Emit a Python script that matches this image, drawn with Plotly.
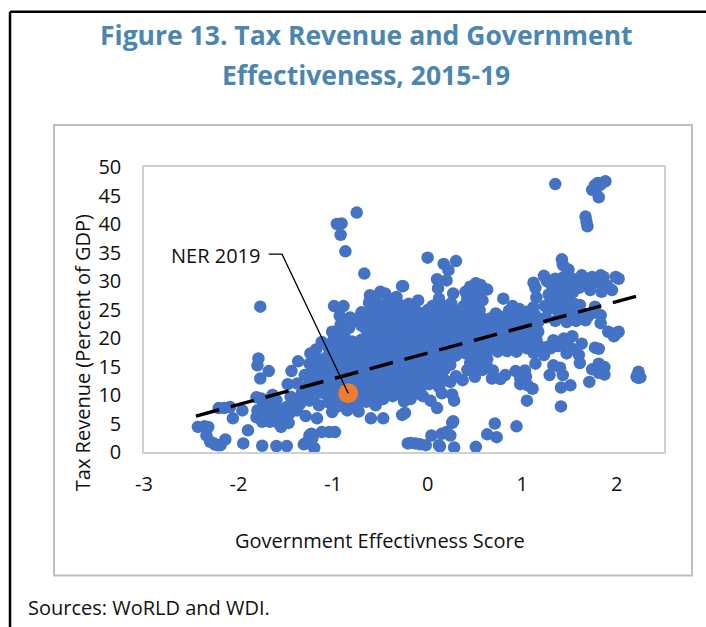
import plotly.graph_objects as go

# (government effectiveness score, tax revenue % of GDP)
high_outliers = [
    (-0.75,42.0),(-0.91,40.1),(-0.96,40.0),(-0.92,38.1),(-0.87,35.2),(-0.67,31.3),(-0.27,29.1),
    (-1.77,25.5),(-0.99,25.6),(-0.89,25.6),(-0.93,23.9),(-0.26,29.1),
    (1.35,47.0),(1.88,47.5),(1.80,47.2),(1.74,46.0),(1.79,46.3),(1.81,44.7),(1.83,46.9),(1.77,46.8),
    (1.67,41.3),(1.68,40.4),(1.69,39.6),
    (0.00,34.1),(0.17,33.0),(0.30,33.5),(0.22,31.9),(0.10,30.3),(0.20,30.1),(0.11,28.7),
    (0.27,27.8),(-0.10,26.6),(0.80,26.9),(0.51,29.6),(0.45,29.0),(0.56,29.3),(0.63,28.5),(0.40,28.1),
    (0.47,27.9),(0.55,27.5),(0.42,26.8),(0.50,26.2),(0.58,26.6),(0.12,26.9),(0.17,25.6),(0.25,26.1),
]
right_upper = [
    (1.42,33.8),(1.43,32.8),(1.49,32.0),(1.23,30.9),(1.12,29.7),(1.14,28.8),(1.15,27.1),
    (1.35,30.4),(1.44,30.7),(1.53,30.4),(1.63,31.0),(1.74,30.7),(1.83,31.0),(1.86,30.7),(1.99,30.7),
    (2.02,30.4),(1.95,28.4),(1.84,28.1),(1.72,28.4),(1.67,29.3),(1.54,28.1),(1.47,27.5),(1.33,28.7),
    (1.26,30.0),(1.33,26.6),(1.61,25.8),(1.77,25.5),(1.83,24.0),(1.40,29.4),(1.38,27.6),(1.42,26.5),
    (1.80,29.8),(1.70,30.0),(1.59,29.6),(1.28,27.6),(1.30,25.2),(1.37,24.9),(1.45,25.2),(1.55,24.7),
    (1.63,24.4),(1.70,23.9),(1.83,22.6),(1.67,23.1),(1.17,22.8),(1.25,23.6),(1.35,23.0),(1.47,22.8),
    (1.57,23.0),(1.75,24.4),(1.30,29.5),(1.50,29.0),(1.60,28.8),(1.45,28.2),(1.90,29.2),(1.30,26.4),
    (1.24,25.6),(1.53,26.2),(1.40,23.8),(1.50,23.9),
]
right_lower = [
    (1.91,21.1),(1.97,20.3),(2.02,21.1),(1.99,20.7),(1.63,19.0),(1.53,20.3),(1.44,19.9),(1.33,19.6),
    (1.26,18.4),(1.47,17.3),(1.60,17.0),(1.61,15.6),(1.14,15.5),(1.23,17.0),(1.38,18.6),(1.55,18.0),
    (1.77,18.3),(1.81,18.1),(1.33,15.2),(1.40,14.8),(1.74,14.5),(1.81,15.5),(1.87,14.9),(1.87,13.6),
    (1.81,13.9),(1.43,13.5),(1.29,13.5),(1.71,12.3),(1.41,11.3),(1.51,11.7),(1.41,8.0),
    (2.23,14.1),(2.23,13.0),(2.25,13.1),(2.21,13.2),(1.05,9.0),(1.11,11.1),(0.98,11.9),(1.06,11.7),
    (1.03,14.3),(0.93,14.2),(0.82,13.5),(0.69,14.3),(0.68,12.9),(0.77,12.8),(0.98,12.9),
    (1.04,13.2),(1.12,17.4),(1.17,18.8),(1.05,18.2),(0.94,17.6),(0.64,17.9),(0.74,17.6),(0.84,17.7),
    (1.42,18.9),(1.50,18.4),(1.30,18.2),(1.85,14.4),
]
lower_tail = [
    (-2.43,4.4),(-2.32,4.4),(-2.36,4.5),(-2.34,2.9),(-2.30,1.8),(-2.22,1.2),(-2.19,1.2),(-2.14,2.2),
    (-2.26,1.5),(-2.25,1.3),(-2.15,7.7),(-2.09,7.9),(-2.21,7.7),(-1.96,7.3),(-2.06,5.9),
    (-1.90,3.8),(-1.95,1.5),(-1.75,1.1),(-1.60,1.05),(-1.49,1.05),(-1.31,1.35),(-1.20,0.7),
    (-1.23,3.2),(-1.12,3.5),(-1.04,3.5),(-0.98,3.5),(-1.22,2.4),(-1.28,1.7),(-1.25,2.9),
    (-0.21,1.5),(-0.13,1.5),(-0.08,1.35),(-0.02,1.2),(0.12,1.2),(0.13,1.0),(0.28,0.8),(0.51,0.9),
    (0.24,2.9),(0.15,3.2),(0.04,2.9),(0.20,3.5),(0.27,5.4),(0.26,5.1),(0.71,5.0),(0.94,4.5),
    (0.63,3.1),(0.73,2.6),(-0.24,6.85),(-0.27,6.5),(-0.60,5.9),(-0.47,5.9),(-0.18,1.6),
]
left_side = [
    (-1.79,16.4),(-1.80,15.2),(-1.68,14.2),(-1.77,12.9),(-1.44,14.2),(-1.37,15.9),(-1.25,15.5),
    (-1.24,17.3),(-1.12,19.3),(-1.01,21.1),(-1.48,11.9),(-1.30,13.5),(-1.38,12.0),(-1.81,9.6),
    (-1.64,10.0),(-1.38,7.3),(-1.29,6.3),(-1.17,5.9),(-1.01,7.0),(-0.85,7.3),(-0.73,7.1),
    (-1.81,6.1),(-1.75,5.3),(-1.67,5.3),(-1.55,4.4),(-1.47,5.1),(-1.53,6.1),(-1.49,7.9),(-1.60,9.1),
    (-1.74,8.5),(-1.80,7.3),(-1.66,7.4),(-1.72,6.5),(-1.60,6.4),(-1.76,9.4),(-1.60,7.7),(-1.50,5.9),
    (-1.58,5.1),(-1.18,18.0),(-1.16,16.2),(-1.22,15.8),(-1.45,9.7),(-1.40,9.0),(-1.70,7.9),(-1.54,7.1),
    (-1.64,5.9),(-1.46,6.8),(-1.70,9.0),
]
core_low = [
    (-1.35,8.4),(-1.25,9.0),(-1.15,8.2),(-1.05,8.7),(-0.95,8.0),(-0.85,8.9),(-0.75,8.3),(-0.65,8.8),(-0.55,8.2),(0.10,7.7),
    (-1.33,10.4),(-1.20,11.0),(-1.10,10.3),(-1.00,10.9),(-0.90,10.2),(-0.78,10.8),(-0.70,10.1),(-0.60,10.9),(-0.50,10.2),(-0.42,10.8),(-0.30,10.4),(-0.20,10.9),(-0.12,10.3),
    (0.03,9.0),(-0.05,9.8),(0.15,10.3),(0.26,10.1),(0.28,9.0),(0.12,11.4),(-0.25,8.9),(-0.18,9.3),
    (-1.25,12.6),(-1.15,12.0),(-1.05,12.8),(-0.95,12.2),(-0.85,12.7),(-0.75,12.1),(-0.65,12.9),(-0.55,12.2),(-0.45,12.8),(-0.35,12.1),(-0.25,12.7),(-0.15,12.2),(-0.05,12.8),(0.02,11.9),
    (0.18,12.6),(0.24,12.3),(0.37,12.6),(0.50,13.2),(0.30,13.3),
]
core_mid = [
    (-1.22,14.4),(-1.12,13.9),(-1.02,14.6),(-0.92,14.1),(-0.82,14.7),(-0.72,14.0),(-0.62,14.6),(-0.52,14.2),(-0.42,14.8),(-0.32,14.1),(-0.22,14.7),(-0.12,14.0),(-0.02,14.6),(0.08,14.2),(0.18,14.5),(0.42,14.4),(0.50,14.9),(0.58,14.4),
    (-1.08,16.5),(-0.98,16.0),(-0.88,16.6),(-0.78,16.1),(-0.68,16.7),(-0.58,16.0),(-0.48,16.5),(-0.38,16.1),(-0.28,16.7),(-0.18,16.2),(-0.08,16.6),(0.02,16.1),(0.12,16.7),(0.22,16.2),(0.30,16.9),(0.46,16.4),(0.55,16.8),(0.63,16.3),
    (-1.05,18.3),(-0.95,18.8),(-0.85,18.2),(-0.75,18.7),(-0.65,18.1),(-0.55,18.8),(-0.45,18.3),(-0.35,18.7),(-0.25,18.2),(-0.15,18.8),(-0.05,18.1),(0.05,18.7),(0.15,18.3),(0.25,18.8),(0.35,18.2),(0.45,18.7),(0.55,18.1),(0.65,18.8),(0.75,18.4),(0.85,18.9),(0.95,18.5),(1.03,18.9),(1.15,19.6),
    (-0.98,20.2),(-0.88,20.8),(-0.62,20.6),(-0.52,20.1),(-0.42,20.8),(-0.32,20.2),(-0.22,20.7),(-0.12,20.1),(-0.02,20.8),(0.08,20.3),(0.18,20.9),(0.28,20.2),(0.38,20.7),(0.48,20.1),(0.58,20.8),(0.68,20.3),(0.78,20.9),(0.88,20.2),(0.98,20.7),(1.08,20.4),(1.17,21.1),
]
core_high = [
    (-0.92,22.3),(-0.80,22.8),(-0.70,22.2),(-0.60,22.9),(-0.50,22.3),(-0.40,22.8),(-0.30,22.2),(-0.20,22.9),(-0.10,22.4),(0.00,22.8),(0.10,22.3),(0.20,22.9),(0.30,22.2),(0.40,22.8),(0.50,22.3),(0.60,22.9),(0.70,22.4),(0.80,22.8),(0.90,22.3),(1.00,22.9),(1.08,22.4),
    (-0.70,24.5),(-0.60,25.0),(-0.50,24.4),(-0.40,25.1),(-0.30,24.6),(-0.20,25.2),(-0.10,24.5),(0.00,24.9),(0.10,24.4),(0.22,24.4),(0.33,24.8),(0.45,24.5),(0.55,24.9),(0.72,24.3),(0.86,24.8),(0.97,25.1),(1.05,24.6),(1.12,25.4),
    (-0.61,27.5),(-0.50,28.1),(-0.45,27.8),(-0.33,27.2),(-0.29,25.8),(-0.55,26.4),(-0.42,26.3),(-0.20,26.0),(-0.62,26.2),(-0.36,26.8),
]
core_fill_low = [
    (-1.30,9.6),(-1.20,9.9),(-1.03,9.5),(-0.93,9.7),(-0.80,9.4),(-0.68,9.6),(-0.58,9.5),(-0.47,9.3),(-0.37,9.8),
    (-1.27,11.5),(-1.17,11.9),(-1.07,11.4),(-0.97,11.8),(-0.87,11.4),(-0.77,11.8),(-0.67,11.3),(-0.57,11.7),(-0.47,11.4),(-0.37,11.7),(-0.27,11.3),(-0.17,11.7),(-0.07,11.3),
    (-1.19,13.5),(-1.09,13.2),(-1.00,13.6),(-0.90,13.3),(-0.80,13.7),(-0.70,13.3),(-0.60,13.6),(-0.50,13.2),(-0.40,13.6),(-0.30,13.2),(-0.20,13.5),(-0.10,13.2),(0.00,13.5),(0.10,13.2),(0.15,13.7),
]
core_fill_mid = [
    (-1.15,15.4),(-1.05,15.6),(-0.95,15.3),(-0.85,15.6),(-0.75,15.3),(-0.65,15.6),(-0.55,15.3),(-0.45,15.6),(-0.35,15.3),(-0.25,15.6),(-0.15,15.3),(-0.05,15.6),(0.05,15.3),(0.15,15.6),(0.24,15.3),(0.45,15.6),(0.53,15.4),(0.62,15.4),
    (-1.02,17.4),(-0.92,17.5),(-0.82,17.3),(-0.72,17.6),(-0.62,17.3),(-0.52,17.6),(-0.42,17.3),(-0.32,17.6),(-0.22,17.3),(-0.12,17.6),(-0.02,17.3),(0.08,17.6),(0.18,17.3),(0.28,17.6),(0.40,17.3),(0.50,17.6),(0.60,17.3),
    (-1.00,19.5),(-0.90,19.7),(-0.80,19.4),(-0.70,19.7),(-0.60,19.4),(-0.50,19.7),(-0.40,19.4),(-0.30,19.7),(-0.20,19.4),(-0.10,19.7),(0.00,19.4),(0.10,19.7),(0.20,19.4),(0.30,19.7),(0.40,19.4),(0.50,19.7),(0.60,19.4),(0.70,19.7),(0.80,19.4),(0.90,19.7),(1.00,19.4),(1.10,19.7),
]
core_fill_high = [
    (-0.93,21.5),(-0.83,21.8),(-0.65,21.5),(-0.55,21.8),(-0.45,21.5),(-0.35,21.8),(-0.25,21.5),(-0.15,21.8),(-0.05,21.5),(0.05,21.8),(0.15,21.5),(0.25,21.8),(0.35,21.5),(0.45,21.8),(0.55,21.5),(0.65,21.8),(0.75,21.5),(0.85,21.8),(0.95,21.5),(1.05,21.8),
    (-0.82,23.6),(-0.74,23.4),(-0.64,23.8),(-0.54,23.4),(-0.44,23.8),(-0.34,23.4),(-0.24,23.8),(-0.14,23.4),(-0.04,23.8),(0.06,23.4),(0.16,23.8),(0.26,23.4),(0.36,23.8),(0.46,23.4),(0.56,23.8),(0.66,23.4),(0.76,23.8),(0.86,23.4),(0.96,23.8),(1.06,23.4),(1.14,23.9),
    (-0.52,25.9),(-0.45,25.5),(-0.33,25.9),(-0.25,25.2),(-0.15,25.7),(0.05,25.6),(0.38,25.6),(0.48,25.6),(0.90,25.6),
]
ner_2019_x = [-0.84]
ner_2019_y = [10.3]
trend_x = [-2.45, 2.27]
trend_y = [6.3, 27.6]
leader_x = [-1.68, -1.54, -0.84]
leader_y = [34.7, 34.7, 10.3]
x_ticks = [-3, -2, -1, 0, 1, 2]
x_tick_labels = ["-3", "-2", "-1", "0", "1", "2"]
y_ticks = [0, 5, 10, 15, 20, 25, 30, 35, 40, 45, 50]

points = (high_outliers + right_upper + right_lower + lower_tail + left_side + core_low + core_mid + core_high
          + core_fill_low + core_fill_mid + core_fill_high)
FONT = "Open Sans"
L, R, T, B = 144, 664, 167, 451.7
W, H = 706, 627
TEXT = 20

def px(x): return (x - L) / (R - L)
def py(y): return (B - y) / (B - T)

fig = go.Figure()
fig.add_trace(go.Scatter(x=[p[0] for p in points], y=[p[1] for p in points], mode="markers",
                         marker=dict(size=12.5, color="#4472C4", line=dict(width=0)), showlegend=False))
fig.add_trace(go.Scatter(x=trend_x, y=trend_y, mode="lines",
                         line=dict(color="black", width=3.5, dash="24px,12px"), showlegend=False))
fig.add_trace(go.Scatter(x=ner_2019_x, y=ner_2019_y, mode="markers",
                         marker=dict(size=20, color="#ED7D31", line=dict(width=0)), showlegend=False))
fig.add_trace(go.Scatter(x=leader_x, y=leader_y, mode="lines",
                         line=dict(color="black", width=1.3), showlegend=False))

def rect(x0, y0, x1, y1, color, width):
    return dict(type="rect", xref="paper", yref="paper", x0=px(x0), x1=px(x1), y0=py(y0), y1=py(y1),
                line=dict(color=color, width=width), fillcolor="rgba(0,0,0,0)", layer="below")

shapes = [
    rect(54, 125, 692, 575, "#BFBFBF", 2),
    dict(type="line", xref="paper", yref="paper", x0=px(10), x1=px(706), y0=py(12), y1=py(12), line=dict(color="black", width=2.5)),
    dict(type="line", xref="paper", yref="paper", x0=px(10), x1=px(10), y0=py(12), y1=py(627), line=dict(color="black", width=2.5)),
]

def note(text, x, y, size, color="#111111", bold=False, angle=0):
    return dict(text=f"<b>{text}</b>" if bold else text, xref="paper", yref="paper", x=px(x), y=py(y),
                showarrow=False, xanchor="center", yanchor="middle", textangle=angle,
                font=dict(family=FONT, size=size, color=color))

annotations = [
    note("Figure 13. Tax Revenue and Government", 366, 35, 26.5, "#4A86B0", True),
    note("Effectiveness, 2015-19", 366, 75, 26.5, "#4A86B0", True),
    note("NER 2019", 215, 255, TEXT),
    note("Government Effectivness Score", 380, 540, TEXT),
    note("Tax Revenue (Percent of GDP)", 82, 353, TEXT, angle=-90),
    note("Sources: WoRLD and WDI.", 149, 607, TEXT),
]

fig.update_layout(
    width=W, height=H, autosize=False, paper_bgcolor="white", plot_bgcolor="white",
    margin=dict(l=L, r=W - R, t=T, b=H - B, pad=0),
    shapes=shapes, annotations=annotations, showlegend=False,
    font=dict(family=FONT, size=TEXT, color="#111111"),
    xaxis=dict(range=[-3, 2.5], tickvals=x_ticks, ticktext=x_tick_labels, showgrid=False, zeroline=False, showline=True, mirror=True,
               linecolor="#D0D0D0", linewidth=1.5, ticks="", ticklabelstandoff=13),
    yaxis=dict(range=[0, 50], tickvals=y_ticks, showgrid=False, zeroline=False, showline=True, mirror=True,
               linecolor="#D0D0D0", linewidth=1.5, ticks="", ticklabelstandoff=17),
)
fig.write_html("out.html", config=dict(displayModeBar=False), post_script="document.body.style.margin='0';")
